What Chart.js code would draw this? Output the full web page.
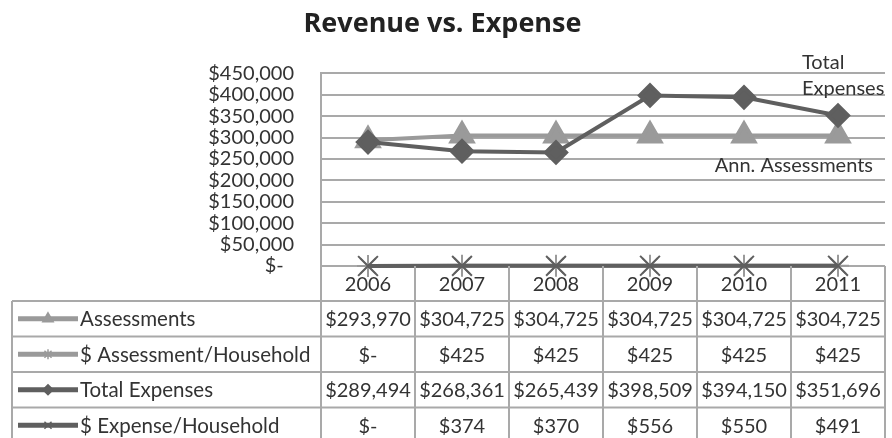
<!DOCTYPE html>
<html lang="en">
<head>
  <meta charset="UTF-8" />
  <title>Revenue vs. Expense</title>
  <script src="https://cdn.jsdelivr.net/npm/chart.js"></script>
  <style>
    html, body { margin: 0; padding: 0; background: #fff; overflow: hidden; }
    #wrap { position: relative; width: 892px; height: 438px; }
    canvas { display: block; }
  </style>
</head>
<body>
  <div id="wrap"><canvas id="chart"></canvas></div>

  <script>
    const years = ["2006", "2007", "2008", "2009", "2010", "2011"];
    const assessments = [293970, 304725, 304725, 304725, 304725, 304725];
    const assessmentPerHousehold = [0, 425, 425, 425, 425, 425];
    const totalExpenses = [289494, 268361, 265439, 398509, 394150, 351696];
    const expensePerHousehold = [0, 374, 370, 556, 550, 491];
    const yMax = 450000;
    const yStep = 50000;

    const FONT = 'Lato, "Open Sans", sans-serif';
    const LIGHT = "#9a9a9a";
    const DARK = "#5f5f5f";
    const GRID = "#a9a9a9";
    const TEXT = "#333";

    const money = (v) => v === 0 ? "$-" : "$" + v.toLocaleString("en-US");

    // data table under the plot + the two in-chart series labels
    const dataTable = {
      id: "dataTable",
      afterDatasetsDraw(chart) {
        const ctx = chart.ctx;
        ctx.save();
        ctx.fillStyle = TEXT;
        ctx.font = `20px ${FONT}`;
        ctx.textBaseline = "middle";
        const te = chart.getDatasetMeta(2).data[years.length - 1];
        ctx.textAlign = "left";
        ctx.fillText("Total", te.x - 36, te.y - 53);
        ctx.fillText("Expenses", te.x - 36, te.y - 27);
        const as = chart.getDatasetMeta(0).data[years.length - 1];
        ctx.textAlign = "right";
        ctx.fillText("Ann. Assessments", as.x + 35, as.y + 30);
        ctx.restore();
      },
      afterDraw(chart) {
        const { ctx, chartArea: area, scales: { x } } = chart;
        const half = (x.right - x.left) / years.length / 2;
        const left = 12;
        const headTop = area.bottom;
        const headBottom = headTop + 35;
        const rowH = 35.5;
        const rows = chart.data.datasets;
        const bottom = headBottom + rowH * rows.length;

        ctx.save();
        ctx.strokeStyle = GRID;
        ctx.lineWidth = 2;
        ctx.beginPath();
        // column separators
        for (let i = 0; i <= years.length; i++) {
          const cx = x.getPixelForValue(0) - half + i * half * 2;
          ctx.moveTo(cx, headTop);
          ctx.lineTo(cx, bottom);
        }
        ctx.moveTo(left, headBottom);
        ctx.lineTo(left, bottom);
        for (let r = 0; r <= rows.length; r++) {
          const ry = headBottom + r * rowH;
          ctx.moveTo(left, ry);
          ctx.lineTo(x.right, ry);
        }
        ctx.stroke();

        ctx.fillStyle = TEXT;
        ctx.font = `20px ${FONT}`;
        ctx.textBaseline = "middle";
        ctx.textAlign = "center";
        years.forEach((y, i) => ctx.fillText(y, x.getPixelForValue(i), (headTop + headBottom) / 2 + 1));

        rows.forEach((ds, r) => {
          const cy = headBottom + r * rowH + rowH / 2;
          // legend key
          ctx.strokeStyle = ds.borderColor;
          ctx.fillStyle = ds.borderColor;
          ctx.lineWidth = 5;
          ctx.beginPath();
          ctx.moveTo(18, cy);
          ctx.lineTo(78, cy);
          ctx.stroke();
          ctx.lineWidth = 1.5;
          Chart.helpers.drawPoint(ctx, {
            pointStyle: ds.pointStyle,
            radius: ds.pointStyle === "triangle" ? 6 : 5,
            borderWidth: 1.5,
            rotation: 0
          }, 48, cy);

          ctx.fillStyle = TEXT;
          ctx.textAlign = "left";
          ctx.font = `20.5px ${FONT}`;
          ctx.fillText(ds.label, 80, cy + 1);
          ctx.font = `20px ${FONT}`;
          ctx.textAlign = "center";
          ds.data.forEach((v, i) => ctx.fillText(money(v), x.getPixelForValue(i), cy + 1));
        });
        ctx.restore();
      }
    };

    new Chart(document.getElementById("chart"), {
      type: "line",
      data: {
        labels: years,
        datasets: [
          {
            label: "Assessments",
            data: assessments,
            borderColor: LIGHT,
            backgroundColor: LIGHT,
            borderWidth: 4,
            pointStyle: "triangle",
            pointRadius: 12,
            order: 4,
            clip: false
          },
          {
            label: "$ Assessment/Household",
            data: assessmentPerHousehold,
            borderColor: LIGHT,
            backgroundColor: LIGHT,
            borderWidth: 4,
            pointStyle: "star",
            pointRadius: 11,
            pointBorderWidth: 2,
            order: 3,
            clip: false
          },
          {
            label: "Total Expenses",
            data: totalExpenses,
            borderColor: DARK,
            backgroundColor: DARK,
            borderWidth: 4,
            pointStyle: "rectRot",
            pointRadius: 10,
            order: 2,
            clip: false
          },
          {
            label: "$ Expense/Household",
            data: expensePerHousehold,
            borderColor: DARK,
            backgroundColor: DARK,
            borderWidth: 4,
            pointStyle: "crossRot",
            pointRadius: 14,
            pointBorderWidth: 2,
            order: 1,
            clip: false
          }
        ]
      },
      options: {
        responsive: true,
        maintainAspectRatio: false,
        animation: false,
        layout: { autoPadding: false, padding: { left: 0, right: 7, top: 0, bottom: 172 } },
        elements: { line: { tension: 0 } },
        plugins: {
          legend: { display: false },
          tooltip: { enabled: false },
          title: {
            display: true,
            text: "Revenue vs. Expense",
            color: "#222",
            font: { family: '"Open Sans", Lato, sans-serif', size: 27, weight: "bold" },
            padding: { top: 8, bottom: 33 }
          }
        },
        scales: {
          x: { display: false, offset: true },
          y: {
            min: 0,
            max: yMax,
            afterFit(scale) { scale.width = 321; },
            ticks: {
              stepSize: yStep,
              autoSkip: false,
              padding: 27,
              color: TEXT,
              font: { family: FONT, size: 20 },
              callback: (v) => v === 0 ? "$-  " : money(v)
            },
            grid: { color: GRID, lineWidth: 2, drawTicks: false },
            border: { display: true, color: GRID, width: 2 }
          }
        }
      },
      plugins: [dataTable]
    });
  </script>
</body>
</html>
